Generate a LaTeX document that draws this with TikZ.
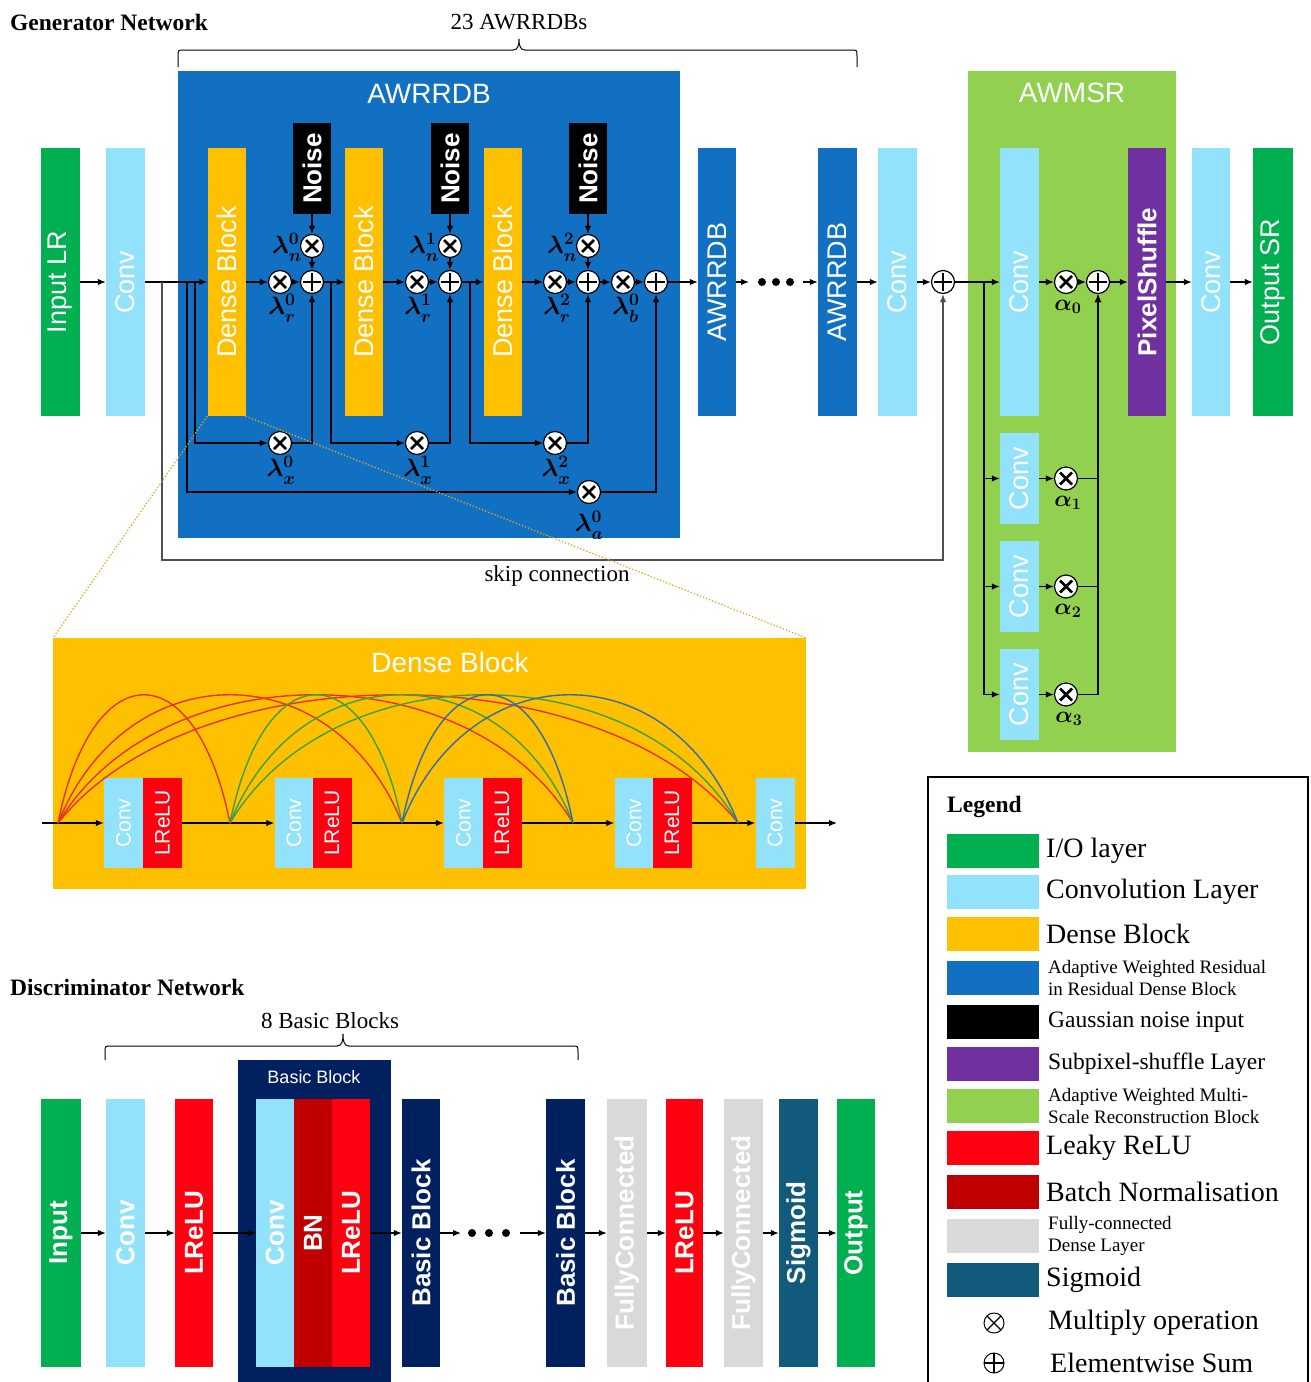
\RequirePackage{fix-cm}
\documentclass[tikz,border=0pt]{standalone}
\usepackage{fontspec}
\setmainfont{Liberation Serif}
\newfontfamily\arialf{Liberation Sans}
\usetikzlibrary{arrows.meta,calc}
\definecolor{cIO}{RGB}{0,176,80}
\definecolor{cConv}{RGB}{147,226,252}
\definecolor{cDense}{RGB}{255,192,0}
\definecolor{cAW}{RGB}{17,112,193}
\definecolor{cPix}{RGB}{112,48,160}
\definecolor{cMS}{RGB}{146,208,80}
\definecolor{cLR}{RGB}{255,0,16}
\definecolor{cBN}{RGB}{192,0,0}
\definecolor{cFC}{RGB}{217,217,217}
\definecolor{cSig}{RGB}{17,90,124}
\definecolor{cNavy}{RGB}{0,32,96}
\definecolor{cArcR}{RGB}{232,50,40}
\definecolor{cArcG}{RGB}{60,160,70}
\definecolor{cArcB}{RGB}{50,110,165}
\definecolor{cZoom}{RGB}{220,170,30}
\definecolor{cSkip}{RGB}{80,80,80}
\newcommand\fbig{\arialf\fontsize{27}{30}\selectfont}
\newcommand\fbb{\arialf\bfseries\fontsize{26}{30}\selectfont}
\newcommand\fdet{\arialf\fontsize{21}{24}\selectfont}
\newcommand\fhead{\arialf\fontsize{28}{30}\selectfont}
\newcommand\fbbh{\arialf\fontsize{18}{20}\selectfont}
\newcommand\fttl{\bfseries\fontsize{23.5}{26}\selectfont}
\newcommand\fser{\fontsize{23}{26}\selectfont}
\newcommand\flg{\fontsize{28}{30}\selectfont}
\newcommand\flgm{\fontsize{23.5}{26}\selectfont}
\newcommand\flgs{\fontsize{19}{22}\selectfont}
\newcommand\vtxt[1]{\rotatebox{90}{#1}}
\begin{document}
\begin{tikzpicture}[x=1pt,y=-1pt,
  box/.style={rectangle, inner sep=0pt, text=white, font=\fbig},
  tall/.style={box, minimum width=#1, minimum height=268pt},
  tall/.default=39pt,
  dtall/.style={box, font=\fbb, minimum width=#1, minimum height=268pt},
  dtall/.default=39pt,
  det/.style={box, font=\fdet, minimum width=39pt, minimum height=90pt},
  smc/.style={box, minimum width=39pt, minimum height=91pt},
  mul/.style={circle, draw=black, fill=white, line width=1.2pt, minimum size=23pt, inner sep=0pt,
    path picture={\draw[line width=2.8pt]
      ([shift={(-6pt,-6pt)}]path picture bounding box.center) -- ([shift={(6pt,6pt)}]path picture bounding box.center)
      ([shift={(-6pt,6pt)}]path picture bounding box.center) -- ([shift={(6pt,-6pt)}]path picture bounding box.center);}},
  pls/.style={circle, draw=black, fill=white, line width=1.2pt, minimum size=23pt, inner sep=0pt,
    path picture={\draw[line width=2.8pt]
      ([shift={(-9pt,0pt)}]path picture bounding box.center) -- ([shift={(9pt,0pt)}]path picture bounding box.center)
      ([shift={(0pt,-9pt)}]path picture bounding box.center) -- ([shift={(0pt,9pt)}]path picture bounding box.center);}},
  lmul/.style={circle, draw=black, line width=1pt, minimum size=20pt, inner sep=0pt,
    path picture={\draw[line width=1.1pt]
      ([shift={(-7.5pt,-7.5pt)}]path picture bounding box.center) -- ([shift={(7.5pt,7.5pt)}]path picture bounding box.center)
      ([shift={(-7.5pt,7.5pt)}]path picture bounding box.center) -- ([shift={(7.5pt,-7.5pt)}]path picture bounding box.center);}},
  lpls/.style={circle, draw=black, line width=1pt, minimum size=20pt, inner sep=0pt,
    path picture={\draw[line width=1.1pt]
      ([shift={(-10pt,0pt)}]path picture bounding box.center) -- ([shift={(10pt,0pt)}]path picture bounding box.center)
      ([shift={(0pt,-10pt)}]path picture bounding box.center) -- ([shift={(0pt,10pt)}]path picture bounding box.center);}},
  lam/.style={inner sep=0pt, font=\fontsize{25}{25}\selectfont\boldmath},
  alp/.style={inner sep=0pt, font=\fontsize{23}{23}\selectfont\boldmath},
  arr/.style={line width=1.3pt, -{Latex[length=8pt,width=6.5pt]}},
  ln/.style={line width=1.3pt},
  dotn/.style={circle, fill=black, minimum size=8pt, inner sep=0pt},
  arcl/.style={line width=1.4pt},
  swatch/.style={rectangle, minimum width=92pt, minimum height=34pt, inner sep=0pt},
  lgtxt/.style={anchor=west, inner sep=0pt, font=\flg},
  lgtxm/.style={anchor=west, inner sep=0pt, font=\flgm},
  lgtxs/.style={anchor=west, inner sep=0pt, font=\flgs, align=left},
  zoomln/.style={draw=cZoom, dotted, line width=1.3pt}
]
\useasboundingbox (0,0) rectangle (1311,1382);

% ================= Generator =================
\node[anchor=west, inner sep=0pt, font=\fttl] (gtitle) at (10,22) {Generator Network};
\node[inner sep=0pt, font=\fser] (g23) at (519,22) {23 AWRRDBs};
\draw[line width=1pt] (178,67) -- (178,56) .. controls (178,50) .. (184,50) -- (513,50)
  .. controls (518,50) and (519,45) .. (519,39) .. controls (519,45) and (520,50) .. (525,50)
  -- (851,50) .. controls (857,50) .. (857,56) -- (857,67);

\node[rectangle, fill=cAW, minimum width=502pt, minimum height=467pt, anchor=north west, inner sep=0pt] (awr) at (178,71) {};
\node[font=\fhead, text=white, inner sep=0pt] (awrT) at (429,94) {AWRRDB};
\node[rectangle, fill=cMS, minimum width=208pt, minimum height=681pt, anchor=north west, inner sep=0pt] (ms) at (968,71) {};
\node[font=\fhead, text=white, inner sep=0pt] (msT) at (1072,93) {AWMSR};

\node[tall, fill=cIO] (inLR) at (60.5,282) {\vtxt{Input LR}};
\node[tall, fill=cConv] (conv0) at (125.5,282) {\vtxt{Conv}};
\node[tall=38pt, fill=cDense] (db1) at (226.5,282) {\vtxt{Dense Block}};
\node[tall=38pt, fill=cDense] (db2) at (364,282) {\vtxt{Dense Block}};
\node[tall=38pt, fill=cDense] (db3) at (503,282) {\vtxt{Dense Block}};
\node[box, font=\fbb, fill=black, minimum width=38pt, minimum height=91pt] (nz1) at (312,168.5) {\vtxt{Noise}};
\node[box, font=\fbb, fill=black, minimum width=38pt, minimum height=91pt] (nz2) at (450,168.5) {\vtxt{Noise}};
\node[box, font=\fbb, fill=black, minimum width=38pt, minimum height=91pt] (nz3) at (588,168.5) {\vtxt{Noise}};

\node[mul] (mr0) at (280,282) {};
\node[pls] (p0) at (312,282) {};
\node[mul] (mn0) at (312,246) {};
\node[mul] (mx0) at (280,443) {};
\node[mul] (mr1) at (417,282) {};
\node[pls] (p1) at (450,282) {};
\node[mul] (mn1) at (450,246) {};
\node[mul] (mx1) at (417,443) {};
\node[mul] (mr2) at (555,282) {};
\node[pls] (p2) at (588,282) {};
\node[mul] (mn2) at (588,246) {};
\node[mul] (mx2) at (555,443) {};
\node[mul] (mb) at (623,282) {};
\node[pls] (pb) at (656,282) {};
\node[mul] (ma) at (589,492) {};

\node[lam] (ln0) at (287,247) {$\lambda_n^0$};
\node[lam] (ln1) at (424,247) {$\lambda_n^1$};
\node[lam] (ln2) at (562,247) {$\lambda_n^2$};
\node[lam] (lr0) at (282,308) {$\lambda_r^0$};
\node[lam] (lr1) at (418,308) {$\lambda_r^1$};
\node[lam] (lr2) at (557,308) {$\lambda_r^2$};
\node[lam] (lb0) at (626,308) {$\lambda_b^0$};
\node[lam] (lx0) at (281,470) {$\lambda_x^0$};
\node[lam] (lx1) at (418,470) {$\lambda_x^1$};
\node[lam] (lx2) at (556,470) {$\lambda_x^2$};
\node[lam] (la0) at (589,525) {$\lambda_a^0$};

\node[tall=38pt, fill=cAW] (awr2) at (717,282) {\vtxt{AWRRDB}};
\node[tall=39pt, fill=cAW] (awr3) at (837.5,282) {\vtxt{AWRRDB}};
\node[tall, fill=cConv] (conv1) at (897.5,282) {\vtxt{Conv}};
\node[pls] (plusS) at (943,282) {};
\node[dotn] (g1) at (762,282) {};
\node[dotn] (g2) at (776,282) {};
\node[dotn] (g3) at (790,282) {};

\node[tall, fill=cConv] (mc0) at (1019.5,282) {\vtxt{Conv}};
\node[smc, fill=cConv] (mc1) at (1019.5,478.5) {\vtxt{Conv}};
\node[smc, fill=cConv] (mc2) at (1019.5,586.5) {\vtxt{Conv}};
\node[smc, fill=cConv] (mc3) at (1019.5,694.5) {\vtxt{Conv}};
\node[mul] (a0) at (1066,282) {};
\node[mul] (a1) at (1066,478.5) {};
\node[mul] (a2) at (1066,586.5) {};
\node[mul] (a3) at (1066,694.5) {};
\node[pls] (plusM) at (1098,282) {};
\node[alp] (al0) at (1068,307) {$\alpha_0$};
\node[alp] (al1) at (1068,503) {$\alpha_1$};
\node[alp] (al2) at (1068,611) {$\alpha_2$};
\node[alp] (al3) at (1069,719) {$\alpha_3$};
\node[box, font=\fbb, fill=cPix, minimum width=38pt, minimum height=268pt] (pix) at (1147,282) {\vtxt{PixelShuffle}};
\node[tall=38pt, fill=cConv] (conv2) at (1211,282) {\vtxt{Conv}};
\node[tall=40pt, fill=cIO] (outSR) at (1273,282) {\vtxt{Output SR}};

% connectors generator
\coordinate (bs) at (162,282);
\coordinate (ba) at (187,282);
\coordinate (bx0) at (195,282);
\coordinate (b1) at (331,282);
\coordinate (b2) at (470,282);
\coordinate (skc) at (943,560);
\coordinate (dA) at (749,282);
\coordinate (dB) at (803,282);
\coordinate (bm) at (984,282);

\draw[arr] (inLR) -- (conv0);
\draw[arr] (conv0) -- (db1);
\draw[arr, draw=cSkip] (bs) |- (skc) -- (plusS);
\draw[arr] (ba) |- (ma);
\draw[arr] (ma) -| (pb);
\draw[arr] (bx0) |- (mx0);
\draw[arr] (mx0) -| (p0);
\draw[arr] (db1) -- (mr0);
\draw[arr] (mr0) -- (p0);
\draw[arr] (p0) -- (db2);
\draw[arr] (nz1) -- (mn0);
\draw[arr] (mn0) -- (p0);
\draw[arr] (b1) |- (mx1);
\draw[arr] (mx1) -| (p1);
\draw[arr] (db2) -- (mr1);
\draw[arr] (mr1) -- (p1);
\draw[arr] (p1) -- (db3);
\draw[arr] (nz2) -- (mn1);
\draw[arr] (mn1) -- (p1);
\draw[arr] (b2) |- (mx2);
\draw[arr] (mx2) -| (p2);
\draw[arr] (db3) -- (mr2);
\draw[arr] (mr2) -- (p2);
\draw[arr] (nz3) -- (mn2);
\draw[arr] (mn2) -- (p2);
\draw[arr] (p2) -- (mb);
\draw[arr] (mb) -- (pb);
\draw[arr] (pb) -- (awr2);
\draw[arr] (awr2) -- (dA);
\draw[arr] (dB) -- (awr3);
\draw[arr] (awr3) -- (conv1);
\draw[arr] (conv1) -- (plusS);
\draw[arr] (plusS) -- (mc0);
\draw[arr] (bm) |- (mc1);
\draw[arr] (bm) |- (mc2);
\draw[arr] (bm) |- (mc3);
\draw[arr] (mc0) -- (a0);
\draw[arr] (a0) -- (plusM);
\draw[arr] (mc1) -- (a1);
\draw[arr] (mc2) -- (a2);
\draw[arr] (mc3) -- (a3);
\draw[arr] (a1) -| (plusM);
\draw[arr] (a2) -| (plusM);
\draw[arr] (a3) -| (plusM);
\draw[arr] (plusM) -- (pix);
\draw[arr] (pix) -- (conv2);
\draw[arr] (conv2) -- (outSR);
\node[inner sep=0pt, font=\fser] (skipT) at (557,576) {skip connection};

% ================= Dense block detail =================
\node[rectangle, fill=cDense, minimum width=753pt, minimum height=251pt, anchor=north west, inner sep=0pt] (dbx) at (53,638) {};
\node[font=\fhead, text=white, inner sep=0pt] (dbxT) at (450,662) {Dense Block};
\draw[zoomln] (db1.south west) -- (dbx.north west);
\draw[zoomln] (db1.south east) -- (dbx.north east);

\node[det, fill=cConv] (c1) at (123.5,823) {\vtxt{Conv}};
\node[det, fill=cLR] (r1) at (162.5,823) {\vtxt{LReLU}};
\node[det, fill=cConv] (c2) at (294,823) {\vtxt{Conv}};
\node[det, fill=cLR] (r2) at (332,823) {\vtxt{LReLU}};
\node[det, fill=cConv] (c3) at (463.5,823) {\vtxt{Conv}};
\node[det, fill=cLR] (r3) at (502,823) {\vtxt{LReLU}};
\node[det, fill=cConv] (c4) at (634,823) {\vtxt{Conv}};
\node[det, fill=cLR] (r4) at (672,823) {\vtxt{LReLU}};
\node[det, fill=cConv] (c5) at (775,823) {\vtxt{Conv}};
\coordinate (din) at (42,823);
\coordinate (dout) at (837,823);
\coordinate (j0) at (58,823);
\coordinate (j1) at (230,823);
\coordinate (j2) at (402,823);
\coordinate (j3) at (573,823);
\coordinate (j4) at (738,823);
\draw[arr] (din) -- (c1);
\draw[ln] (r1) -- (j1);
\draw[arr] (j1) -- (c2);
\draw[ln] (r2) -- (j2);
\draw[arr] (j2) -- (c3);
\draw[ln] (r3) -- (j3);
\draw[arr] (j3) -- (c4);
\draw[ln] (r4) -- (j4);
\draw[arr] (j4) -- (c5);
\draw[arr] (c5) -- (dout);
\foreach \s/\e/\c/\w in {j0/j1/cArcR/172, j0/j2/cArcR/344, j0/j3/cArcR/515, j0/j4/cArcR/680,
  j1/j2/cArcG/172, j1/j3/cArcG/343, j1/j4/cArcG/508, j2/j3/cArcB/171, j2/j4/cArcB/336}
  \draw[arcl, draw=\c] (\s) .. controls +({0.2*\w},-171) and +({-0.2*\w},-171) .. (\e);

% ================= Discriminator =================
\node[anchor=west, inner sep=0pt, font=\fttl] (dtitle) at (10,987) {Discriminator Network};
\node[inner sep=0pt, font=\fser] (d8) at (330,1021) {8 Basic Blocks};
\draw[line width=1pt] (105,1060) -- (105,1052) .. controls (105,1046) .. (111,1046) -- (337,1046)
  .. controls (342,1046) and (343,1041) .. (343,1034) .. controls (343,1041) and (344,1046) .. (349,1046)
  -- (572,1046) .. controls (578,1046) .. (578,1052) -- (578,1060);

\node[rectangle, fill=cNavy, minimum width=153pt, minimum height=322pt, anchor=north west, inner sep=0pt] (bbo) at (238,1060) {};
\node[font=\fbbh, text=white, inner sep=0pt] (bboT) at (314,1077) {Basic Block};

\node[dtall=40pt, fill=cIO] (dIn) at (61,1233) {\vtxt{Input}};
\node[dtall, fill=cConv] (dConv) at (125.5,1233) {\vtxt{Conv}};
\node[dtall=38pt, fill=cLR] (dLR) at (194,1233) {\vtxt{LReLU}};
\node[dtall=38pt, fill=cConv] (bConv) at (275,1233) {\vtxt{Conv}};
\node[dtall=38pt, fill=cBN] (bBN) at (313,1233) {\vtxt{BN}};
\node[dtall=38pt, fill=cLR] (bLR) at (351,1233) {\vtxt{LReLU}};
\node[dtall=38pt, fill=cNavy] (bb1) at (421,1233) {\vtxt{Basic Block}};
\node[dotn] (h1) at (472,1233) {};
\node[dotn] (h2) at (489,1233) {};
\node[dotn] (h3) at (506,1233) {};
\node[dtall, fill=cNavy] (bb2) at (565.5,1233) {\vtxt{Basic Block}};
\node[dtall=40pt, fill=cFC] (fc1) at (627,1233) {\vtxt{FullyConnected}};
\node[dtall=37pt, fill=cLR] (dLR2) at (684.5,1233) {\vtxt{LReLU}};
\node[dtall, fill=cFC] (fc2) at (743.5,1233) {\vtxt{FullyConnected}};
\node[dtall, fill=cSig] (sig) at (798.5,1233) {\vtxt{Sigmoid}};
\node[dtall=38pt, fill=cIO] (dOut) at (856,1233) {\vtxt{Output}};
\coordinate (eA) at (461,1233);
\coordinate (eB) at (520,1233);
\draw[arr] (dIn) -- (dConv);
\draw[arr] (dConv) -- (dLR);
\draw[arr] (dLR) -- (bConv);
\draw[arr] (bLR) -- (bb1);
\draw[arr] (bb1) -- (eA);
\draw[arr] (eB) -- (bb2);
\draw[arr] (bb2) -- (fc1);
\draw[arr] (fc1) -- (dLR2);
\draw[arr] (dLR2) -- (fc2);
\draw[arr] (fc2) -- (sig);
\draw[arr] (sig) -- (dOut);

% ================= Legend =================
\coordinate (lgBL) at (928,1382);
\coordinate (lgTR) at (1308,777);
\coordinate (lgBR) at (1308,1382);
\draw[line width=1.5pt] (lgBL) |- (lgTR) -- (lgBR);
\node[anchor=west, inner sep=0pt, font=\fttl] (lgT) at (947,807) {Legend};
\node[swatch, fill=cIO] (s1) at (993,851) {};
\node[lgtxt] (t1) at (1046,851) {I/O layer};
\node[swatch, fill=cConv] (s2) at (993,892) {};
\node[lgtxt] (t2) at (1046,892) {Convolution Layer};
\node[swatch, fill=cDense] (s3) at (993,934) {};
\node[lgtxt] (t3) at (1046,934) {Dense Block};
\node[swatch, fill=cAW] (s4) at (993,978) {};
\node[lgtxs] (t4) at (1048,978) {Adaptive Weighted Residual\\in Residual Dense Block};
\node[swatch, fill=black] (s5) at (993,1022) {};
\node[lgtxm] (t5) at (1048,1022) {Gaussian noise input};
\node[swatch, fill=cPix] (s6) at (993,1064) {};
\node[lgtxm] (t6) at (1048,1064) {Subpixel-shuffle Layer};
\node[swatch, fill=cMS] (s7) at (993,1106) {};
\node[lgtxs] (t7) at (1048,1106) {Adaptive Weighted Multi-\\Scale Reconstruction Block};
\node[swatch, fill=cLR] (s8) at (993,1148) {};
\node[lgtxt] (t8) at (1046,1148) {Leaky ReLU};
\node[swatch, fill=cBN] (s9) at (993,1192) {};
\node[lgtxt] (t9) at (1046,1192) {Batch Normalisation};
\node[swatch, fill=cFC] (s10) at (993,1236) {};
\node[lgtxs] (t10) at (1048,1236) {Fully-connected\\Dense Layer};
\node[swatch, fill=cSig] (s11) at (993,1280) {};
\node[lgtxt] (t11) at (1046,1280) {Sigmoid};
\node[lmul] (s12) at (994,1323) {};
\node[lgtxt] (t12) at (1048,1323) {Multiply operation};
\node[lpls] (s13) at (994,1363) {};
\node[lgtxt] (t13) at (1050,1363) {Elementwise Sum};
\end{tikzpicture}
\end{document}
